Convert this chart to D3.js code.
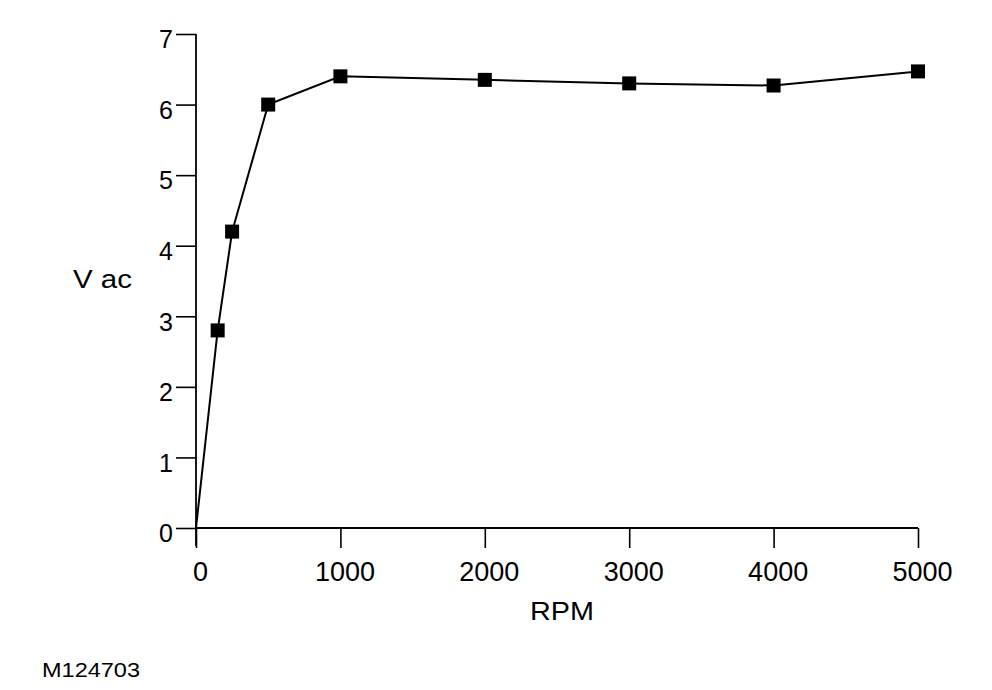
<!DOCTYPE html>
<html>
<head>
<meta charset="utf-8">
<script src="https://cdn.jsdelivr.net/npm/d3@7"></script>
<style>
  html, body { margin: 0; padding: 0; background: #fff; }
  text { font-family: "Liberation Sans", Arial, Helvetica, sans-serif; fill: #000; }
</style>
</head>
<body>
<svg id="chart" width="992" height="690"></svg>
<script>
const rpm  = [0, 150, 250, 500, 1000, 2000, 3000, 4000, 5000];
const vac  = [0, 2.8, 4.2, 6.0, 6.4, 6.35, 6.3, 6.27, 6.47];
const xTicks = [0, 1000, 2000, 3000, 4000, 5000];
const yTicks = [0, 1, 2, 3, 4, 5, 6, 7];
const xTitle = "RPM";
const yTitle = "V ac";
const figId = "M124703";

const svg = d3.select("#chart");
const x = d3.scaleLinear().domain([0, 5000]).range([196, 918]);
const y = d3.scaleLinear().domain([0, 7]).range([528, 34]);

// y axis
const yAxis = svg.append("g").attr("transform", `translate(${x(0)},0)`)
  .call(d3.axisLeft(y).tickValues(yTicks).tickSize(20).tickPadding(3).tickFormat(d3.format("d")));
yAxis.select(".domain").remove();
yAxis.selectAll(".tick line").attr("stroke", "#000").attr("stroke-width", 1.6);
yAxis.selectAll(".tick text").attr("font-size", 25).attr("dy", "0.55em");
svg.append("line").attr("x1", x(0)).attr("x2", x(0)).attr("y1", y(7)).attr("y2", y(0) + 18)
  .attr("stroke", "#000").attr("stroke-width", 1.8);

// x axis
const xAxis = svg.append("g").attr("transform", `translate(0,${y(0)})`)
  .call(d3.axisBottom(x).tickValues(xTicks).tickSize(20).tickPadding(14).tickFormat(d3.format("d")));
xAxis.select(".domain").remove();
xAxis.selectAll(".tick line").attr("stroke", "#000").attr("stroke-width", 1.6);
xAxis.selectAll(".tick text").attr("font-size", 27).attr("dx", "0.15em");
svg.append("line").attr("x1", x(0)).attr("x2", x(5000)).attr("y1", y(0)).attr("y2", y(0))
  .attr("stroke", "#000").attr("stroke-width", 1.8);

// line
const pts = rpm.map((r, i) => [r, vac[i]]);
svg.append("path").datum(pts)
  .attr("fill", "none").attr("stroke", "#000").attr("stroke-width", 2)
  .attr("d", d3.line().x(d => x(d[0])).y(d => y(d[1])));

// markers
const ms = 14;
svg.selectAll("rect.m").data(pts.slice(1)).enter().append("rect")
  .attr("class", "m")
  .attr("x", d => x(d[0]) - ms / 2).attr("y", d => y(d[1]) - ms / 2)
  .attr("width", ms).attr("height", ms).attr("fill", "#000");

// titles
svg.append("text").attr("x", 562).attr("y", 620).attr("text-anchor", "middle")
  .attr("font-size", 26).attr("textLength", 64).attr("lengthAdjust", "spacingAndGlyphs").text(xTitle);
svg.append("text").attr("x", 73).attr("y", 288)
  .attr("font-size", 25).attr("textLength", 59).attr("lengthAdjust", "spacingAndGlyphs").text(yTitle);
svg.append("text").attr("x", 42).attr("y", 677)
  .attr("font-size", 21).attr("textLength", 98).attr("lengthAdjust", "spacingAndGlyphs").text(figId);
</script>
</body>
</html>
